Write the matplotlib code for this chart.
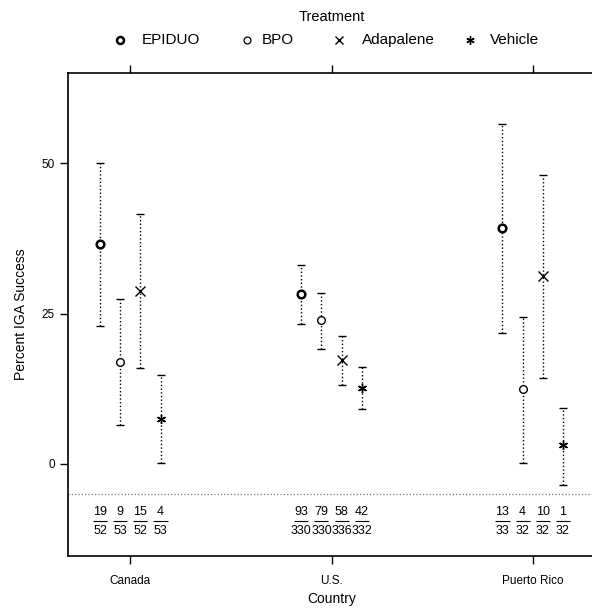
import numpy as np
import matplotlib.pyplot as plt

plt.rcParams['font.family'] = ['Liberation Sans', 'DejaVu Sans']

# data
countries = ['Canada', 'U.S.', 'Puerto Rico']
treatments = ['EPIDUO', 'BPO', 'Adapalene', 'Vehicle']

pct = {
    'EPIDUO':    [36.5, 28.2, 39.3],
    'BPO':       [17.0, 23.9, 12.4],
    'Adapalene': [28.8, 17.3, 31.2],
    'Vehicle':   [7.5, 12.7, 3.1],
}
lower = {
    'EPIDUO':    [22.9, 23.3, 21.8],
    'BPO':       [6.5, 19.1, 0.2],
    'Adapalene': [16.0, 13.1, 14.3],
    'Vehicle':   [0.2, 9.1, -3.5],
}
upper = {
    'EPIDUO':    [50.0, 33.1, 56.6],
    'BPO':       [27.4, 28.4, 24.4],
    'Adapalene': [41.5, 21.3, 48.0],
    'Vehicle':   [14.8, 16.1, 9.3],
}
successes = {
    'EPIDUO':    ['19', '93', '13'],
    'BPO':       ['9', '79', '4'],
    'Adapalene': ['15', '58', '10'],
    'Vehicle':   ['4', '42', '1'],
}
totals = {
    'EPIDUO':    ['52', '330', '33'],
    'BPO':       ['53', '330', '32'],
    'Adapalene': ['52', '336', '32'],
    'Vehicle':   ['53', '332', '32'],
}

markers = {'EPIDUO': 'o', 'BPO': 'o', 'Adapalene': 'x', 'Vehicle': (6, 2, 0)}
offsets = [-0.15, -0.05, 0.05, 0.15]

fig = plt.figure(figsize=(5.92, 6.11), dpi=100)
ax = fig.add_axes([68/592, 1 - 556/611, (595 - 68)/592, (556 - 73)/611])

base = np.arange(1, len(countries) + 1)
for t, off in zip(treatments, offsets):
    xs = base + off
    y = np.array(pct[t])
    lo = np.array(lower[t])
    hi = np.array(upper[t])
    eb = ax.errorbar(xs, y, yerr=[y - lo, hi - y], fmt='none', ecolor='black',
                     elinewidth=1.0, capsize=3, capthick=1.0)
    eb[2][0].set_linestyle(':')
    if t == 'EPIDUO':
        ax.plot(xs, y, ls='none', marker='o', ms=5.5, mfc='white', mec='black', mew=1.8)
    elif t == 'BPO':
        ax.plot(xs, y, ls='none', marker='o', ms=5.5, mfc='white', mec='black', mew=1)
    else:
        ax.plot(xs, y, ls='none', marker=markers[t], ms=6.5, color='black', mew=1)

    # counts under the dotted line
    for x, s, n in zip(xs, successes[t], totals[t]):
        ax.text(x, -8.0, s, ha='center', va='center', fontsize=9)
        ax.text(x, -11.1, n, ha='center', va='center', fontsize=9)
    ax.hlines([-9.4] * len(xs), xs - 0.035, xs + 0.035, color='black', lw=0.8)

ax.axhline(-5, color='0.45', ls=':', lw=0.9)

ax.set_xlim(0.69, 3.31)
ax.set_ylim(-15.3, 65)
ax.set_xticks(base)
ax.set_xticklabels(countries, fontsize=8.5)
ax.set_yticks([0, 25, 50])
ax.tick_params(axis='y', labelsize=8.5, direction='out', length=6, width=1)
ax.tick_params(axis='x', direction='out', length=6, width=1, top=True, pad=8)
for s in ax.spines.values():
    s.set_linewidth(1.2)

ax.set_xlabel('Country', fontsize=10, labelpad=3)
ax.set_ylabel('Percent IGA Success', fontsize=10, labelpad=10)

# legend on top
fig.text(332/592, 1 - 17/611, 'Treatment', ha='center', va='center', fontsize=10.5)
leg_mx = [120, 247, 339, 470]
leg_tx = [142, 262, 362, 490]
for t, mx, tx in zip(treatments, leg_mx, leg_tx):
    ly = 1 - 40/611
    if t == 'EPIDUO':
        kw = dict(marker='o', ms=5, mfc='white', mec='black', mew=1.8)
    elif t == 'BPO':
        kw = dict(marker='o', ms=5, mfc='white', mec='black', mew=0.9)
    else:
        kw = dict(marker=markers[t], ms=6, color='black', mew=1)
    fig.lines.append(plt.Line2D([mx/592], [ly], transform=fig.transFigure, ls='none', **kw))
    fig.text(tx/592, ly, t, ha='left', va='center', fontsize=11)

fig.savefig('out.png', dpi=100)
